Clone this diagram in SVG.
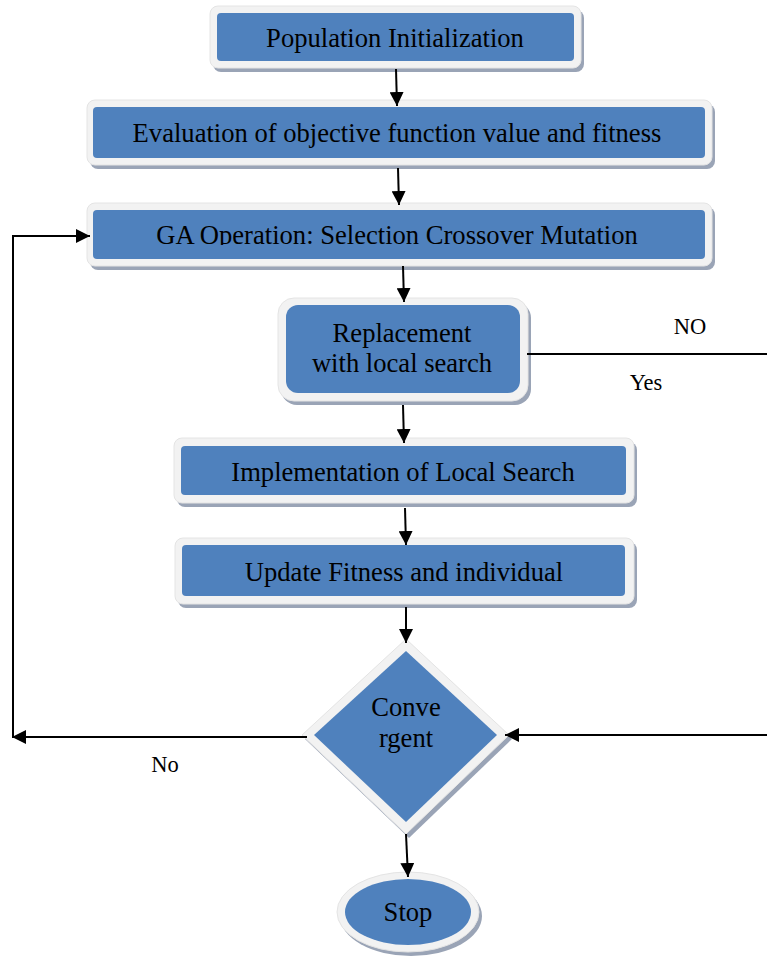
<svg xmlns="http://www.w3.org/2000/svg" width="767" height="957" viewBox="0 0 767 957">
<style>
.sh{fill:#9aa4b6}
.out{fill:#f2f2f2;stroke:#e4e4e4;stroke-width:1}
.blue{fill:#4f81bd}
.t{font-family:"Liberation Serif","Times New Roman",serif;font-size:26.6px;fill:#000;text-anchor:middle}
.lb{font-family:"Liberation Serif","Times New Roman",serif;font-size:22.5px;fill:#000;text-anchor:middle}
.c{fill:none;stroke:#000;stroke-width:2}
</style>
<defs>
<marker id="ah" viewBox="0 0 10 10" refX="10" refY="5" markerWidth="14" markerHeight="14" markerUnits="userSpaceOnUse" orient="auto">
<path d="M0,0 L10,5 L0,10 z" fill="#000"/>
</marker>
<clipPath id="gaclip"><rect x="93" y="210" width="612" height="35"/></clipPath>
</defs>
<rect width="767" height="957" fill="#fff"/>

<g id="n1">
<rect class="sh" x="213" y="10" width="371" height="62" rx="8"/>
<rect class="out" x="210" y="6" width="371" height="62" rx="8"/>
<rect class="blue" x="217" y="13" width="357" height="48" rx="4"/>
<text class="t" x="395" y="47">Population Initialization</text>
</g>

<g id="n2">
<rect class="sh" x="90" y="104" width="625" height="65" rx="8"/>
<rect class="out" x="87" y="100" width="625" height="65" rx="8"/>
<rect class="blue" x="93" y="107" width="612" height="51" rx="4"/>
<text class="t" x="397" y="142">Evaluation of objective function value and fitness</text>
</g>

<g id="n3">
<rect class="sh" x="90" y="207" width="625" height="63" rx="8"/>
<rect class="out" x="87" y="203" width="625" height="63" rx="8"/>
<rect class="blue" x="93" y="210" width="612" height="49" rx="4"/>
<text class="t" x="397" y="244" clip-path="url(#gaclip)">GA Operation: Selection Crossover Mutation</text>
</g>

<g id="n4">
<rect class="sh" x="281" y="302" width="250" height="103" rx="16"/>
<rect class="out" x="278" y="298" width="250" height="103" rx="16"/>
<rect class="blue" x="286" y="305" width="234" height="88" rx="12"/>
<text class="t" x="402" y="342">Replacement</text>
<text class="t" x="402" y="372">with local search</text>
</g>

<g id="n5">
<rect class="sh" x="177" y="442" width="460" height="65" rx="8"/>
<rect class="out" x="174" y="438" width="460" height="65" rx="8"/>
<rect class="blue" x="181" y="446" width="445" height="49" rx="4"/>
<text class="t" x="403" y="481">Implementation of Local Search</text>
</g>

<g id="n6">
<rect class="sh" x="178" y="542" width="459" height="66" rx="8"/>
<rect class="out" x="175" y="538" width="459" height="66" rx="8"/>
<rect class="blue" x="182" y="545" width="443" height="51" rx="4"/>
<text class="t" x="404" y="581">Update Fitness and individual</text>
</g>

<g id="n7">
<polygon class="sh" points="409,643 512,739 409,838 305,739"/>
<polygon class="out" points="406,639 509,735 406,834 302,735"/>
<polygon class="blue" points="406,651 497,735 406,822 314,735"/>
<text class="t" x="406" y="716">Conve</text>
<text class="t" x="406" y="747">rgent</text>
</g>

<g id="n8">
<ellipse class="sh" cx="411" cy="916" rx="71" ry="40"/>
<ellipse class="out" cx="408" cy="912" rx="71" ry="40"/>
<ellipse class="blue" cx="408" cy="912" rx="63" ry="33"/>
<text class="t" x="408" y="921">Stop</text>
</g>

<g id="connectors">
<line class="c" x1="396" y1="69" x2="397" y2="106" marker-end="url(#ah)"/>
<line class="c" x1="398" y1="168" x2="399" y2="205" marker-end="url(#ah)"/>
<line class="c" x1="403" y1="266" x2="404" y2="302" marker-end="url(#ah)"/>
<line class="c" x1="403" y1="405" x2="404" y2="443" marker-end="url(#ah)"/>
<line class="c" x1="405" y1="508" x2="406" y2="545" marker-end="url(#ah)"/>
<line class="c" x1="406" y1="607" x2="406" y2="643" marker-end="url(#ah)"/>
<line class="c" x1="406" y1="834" x2="408" y2="877" marker-end="url(#ah)"/>
<line class="c" x1="527" y1="354" x2="767" y2="354"/>
<line class="c" x1="767" y1="735" x2="505" y2="735" marker-end="url(#ah)"/>
<line class="c" x1="307" y1="737" x2="12" y2="737" marker-end="url(#ah)"/>
<polyline class="c" points="13,737 13,236 90,236" marker-end="url(#ah)"/>
</g>

<text class="lb" x="690" y="334">NO</text>
<text class="lb" x="646" y="390">Yes</text>
<text class="lb" x="165" y="772">No</text>
</svg>
